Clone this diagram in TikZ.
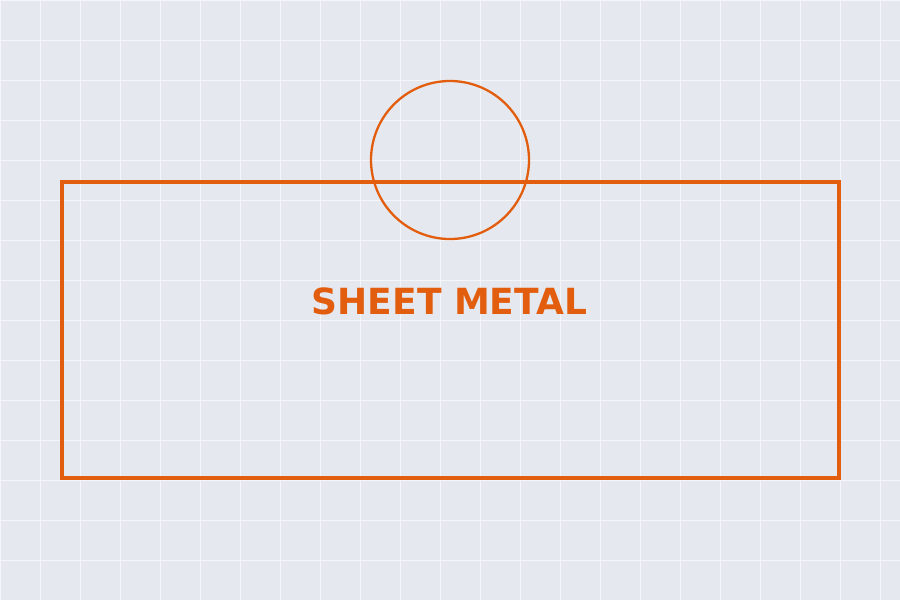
\documentclass[tikz,border=0pt]{standalone}
\usepackage{fontspec}
\setmainfont{DejaVu Sans}
\definecolor{bg}{RGB}{229,233,239}
\definecolor{gridc}{RGB}{244,246,249}
\definecolor{org}{RGB}{226,94,14}
\tikzset{
  plate/.style={draw=org, line width=3.5pt},
  hole/.style={draw=org, line width=2.3pt, circle, minimum size=158pt, inner sep=0pt},
  lbl/.style={text=org, font=\bfseries\fontsize{36}{40}\selectfont, inner sep=0pt}
}
\begin{document}
\begin{tikzpicture}[x=1pt,y=-1pt]
\fill[bg] (0,0) rectangle (900,600);
\useasboundingbox (0,0) rectangle (900,600);
\draw[gridc, line width=1pt] (0,0) grid[step=40pt] (900,600);
\node[plate, minimum width=777pt, minimum height=296pt, inner sep=0pt] (sheet) at (450.5,330) {};
\node[hole] (h) at (450,160) {};
\node[lbl] (t) at (449.5,301) {SHEET METAL};
\end{tikzpicture}
\end{document}
